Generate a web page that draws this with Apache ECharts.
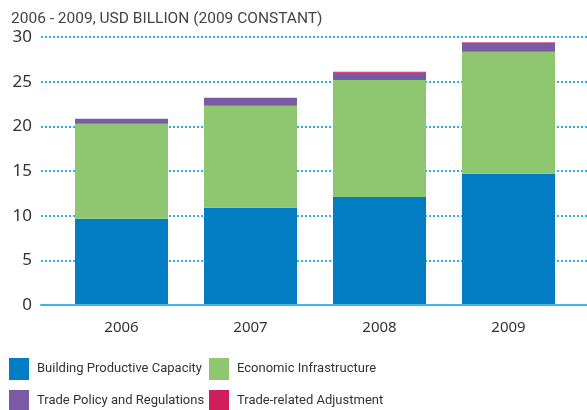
<!DOCTYPE html>
<html><head><meta charset="utf-8">
<script src="https://cdn.jsdelivr.net/npm/echarts@6/dist/echarts.min.js"></script>
<style>html,body{margin:0;padding:0;background:#fff}#c{width:587px;height:410px}</style>
</head><body><div id="c"></div>
<script>
const categories = ['2006', '2007', '2008', '2009'];
const buildingProductive = [9.65, 10.9, 12.1, 14.7];
const economicInfra = [10.65, 11.4, 13.1, 13.65];
const tradePolicy = [0.55, 0.9, 0.8, 1.0];
const tradeAdjustment = [0, 0, 0.12, 0.07];
const yTicks = [0, 30, 5];
const titleText = '2006 - 2009, USD BILLION (2009 CONSTANT)';

const colors = ['#027cc2', '#8ec76f', '#7a59a5', '#d21d5c'];
const names = ['Building Productive Capacity', 'Economic Infrastructure', 'Trade Policy and Regulations', 'Trade-related Adjustment'];
const values = [buildingProductive, economicInfra, tradePolicy, tradeAdjustment];
const textFont = 'Roboto, "Noto Sans", sans-serif';
const legendPos = [[9, 358], [209, 358], [9, 390], [209, 390]];

const chart = echarts.init(document.getElementById('c'), null, {renderer: 'canvas'});
chart.setOption({
  animation: false,
  color: colors,
  title: {text: titleText, left: 11, top: 11, padding: 0, textStyle: {fontSize: 15.5, fontWeight: 'normal', color: '#444', fontFamily: textFont}},
  legend: names.map((n, i) => ({
    data: [n], left: legendPos[i][0], top: legendPos[i][1], padding: 0, itemWidth: 20, itemHeight: 22, itemGap: 8,
    icon: 'rect', selectedMode: false,
    textStyle: {fontSize: 13, color: '#333', fontFamily: textFont, padding: [0, 0, 0, 3]}
  })),
  grid: [
    {left: 41, right: 0, top: 37, bottom: 105},
    {left: 57, right: 14, top: 37, bottom: 105}
  ],
  xAxis: [
    {type: 'category', gridIndex: 0, data: [''], z: 5,
     axisLine: {lineStyle: {color: '#3fb4e6', width: 2}}, axisTick: {show: false}, axisLabel: {show: false}},
    {type: 'category', gridIndex: 1, data: categories,
     axisLine: {show: false}, axisTick: {show: false},
     axisLabel: {fontSize: 15, color: '#333', margin: 15, fontFamily: '"Noto Sans", sans-serif'}}
  ],
  yAxis: [
    {type: 'value', gridIndex: 0, min: yTicks[0], max: yTicks[1], interval: yTicks[2],
     axisLine: {show: false}, axisTick: {show: false},
     axisLabel: {fontSize: 17, color: '#333', margin: 9, fontFamily: '"Noto Sans", sans-serif'},
     splitLine: {lineStyle: {color: '#29b3e6', width: 2, type: [2, 2]}}},
    {type: 'value', gridIndex: 1, min: yTicks[0], max: yTicks[1], interval: yTicks[2], show: false, splitLine: {show: false}}
  ],
  series: names.map((n, i) => ({
    name: n, type: 'bar', stack: 'total', xAxisIndex: 1, yAxisIndex: 1, barWidth: 93,
    data: values[i], itemStyle: {color: colors[i]}
  }))
});
</script></body></html>
